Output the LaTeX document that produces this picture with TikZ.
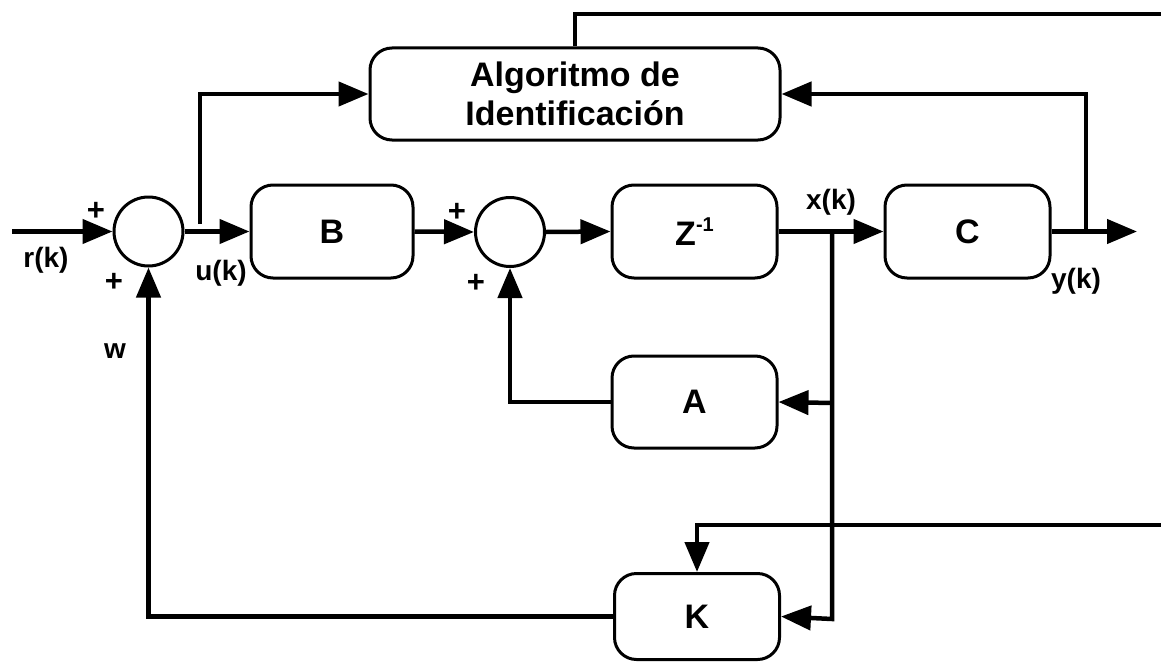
\documentclass[tikz,border=0pt]{standalone}
\usepackage{fontspec}
\setmainfont{Liberation Sans}
\usetikzlibrary{arrows.meta}

\tikzset{
  x=1pt, y=-1pt,
  blk/.style={draw, line width=3pt, rounded corners=22pt, inner sep=0pt,
    font=\fontsize{34}{39}\selectfont\bfseries, align=center},
  sumc/.style={draw, circle, line width=3pt, minimum size=69pt, inner sep=0pt},
  conn/.style={line width=4.5pt, line join=miter},
  arr/.style={conn, -{Triangle[length=30pt,width=24pt]}},
  lbl/.style={font=\fontsize{28}{30}\selectfont\bfseries, inner sep=0pt},
  sgn/.style={font=\fontsize{31}{32}\selectfont\bfseries, inner sep=0pt},
}

\begin{document}
\begin{tikzpicture}
\useasboundingbox (0,0) rectangle (1161,661);

% blocks
\node[blk, minimum width=410pt, minimum height=92pt] (alg) at (575,94)
  {Algoritmo de\\Identificación};
\node[blk, minimum width=162pt, minimum height=93pt] (B) at (332,231.5) {B};
\node[blk, minimum width=165pt, minimum height=93pt] (Z) at (694.5,231.5)
  {Z\raisebox{0.42em}{\fontsize{20}{20}\selectfont -1}};
\node[blk, minimum width=165pt, minimum height=93pt] (C) at (967.5,231.5) {C};
\node[blk, minimum width=165pt, minimum height=92pt] (A) at (694.5,402) {A};
\node[blk, minimum width=165pt, minimum height=86pt] (K) at (697,616.5) {K};

% summing junctions
\node[sumc] (s1) at (148.5,231.5) {};
\node[sumc] (s2) at (510,232) {};

% free ends and branch points
\coordinate (rin) at (12,231.5);
\coordinate (ubr) at (200,224);
\coordinate (yout) at (1137,231.5);
\coordinate (ybr) at (1086,231.5);
\coordinate (xtop) at (832,231.5);
\coordinate (xbot) at (832,619);
\coordinate (xa) at (832,403);
\coordinate (toptr) at (575,14);
\coordinate (topend) at (1161,14);
\coordinate (kin) at (1161,525);

% forward path
\draw[arr] (rin) -- (s1.west);
\draw[arr] (s1.east) -- (B.west);
\draw[arr] (B.east) -- (s2.west);
\draw[arr] (s2.east) -- (Z.west);
\draw[arr] (Z.east) -- (C.west);
\draw[arr] (C.east) -- (yout);

% identification signals
\draw[arr] (ubr) |- (alg.west);
\draw[arr] (ybr) |- (alg.east);
\draw[conn] (alg.north) -- (toptr) -- (topend);

% state feedback paths
\draw[arr] (xtop) -- (xbot) -- (K.east);
\draw[arr] (xa) -- (A.east);
\draw[arr] (A.west) -| (s2.south);
\draw[arr] (K.west) -| (s1.south);
\draw[arr] (kin) -| (K.north);

% labels
\node[sgn] (p1) at (96,211) {+};
\node[sgn] (p2) at (114,282) {+};
\node[sgn] (p3) at (457,212) {+};
\node[sgn] (p4) at (476,283) {+};
\node[lbl] (lr) at (46,260) {r(k)};
\node[lbl] (lu) at (221,273) {u(k)};
\node[lbl] (lx) at (831,202) {x(k)};
\node[lbl] (ly) at (1076,281) {y(k)};
\node[lbl] (lw) at (115,351) {w};
\end{tikzpicture}
\end{document}
